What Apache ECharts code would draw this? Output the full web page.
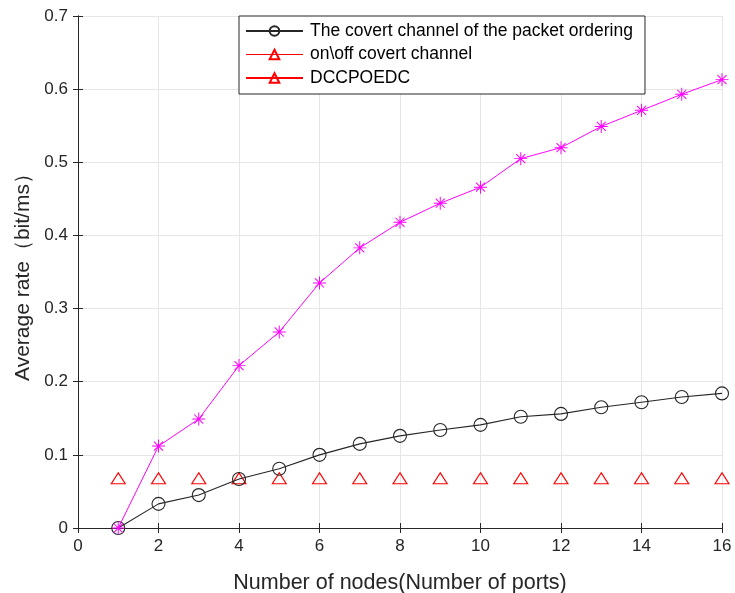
<!DOCTYPE html>
<html><head><meta charset="utf-8">
<script src="https://cdn.jsdelivr.net/npm/echarts@6/dist/echarts.min.js"></script>
<style>html,body{margin:0;padding:0;background:#fff}#c{width:735px;height:593px}</style>
</head><body><div id="c"></div>
<script>
const nodes = [1,2,3,4,5,6,7,8,9,10,11,12,13,14,15,16];
const orderingRate = [0,0.033,0.045,0.067,0.081,0.100,0.115,0.126,0.134,0.141,0.152,0.156,0.165,0.172,0.179,0.184];
const onoffRate = [0.068,0.068,0.068,0.068,0.068,0.068,0.068,0.068,0.068,0.068,0.068,0.068,0.068,0.068,0.068,0.068];
const dccRate = [0,0.112,0.149,0.222,0.268,0.335,0.383,0.418,0.444,0.466,0.505,0.520,0.549,0.571,0.593,0.613];
const seriesNames = ['The covert channel of the packet ordering','on\\off covert channel','DCCPOEDC'];
const xTicks = [0,2,4,6,8,10,12,14,16];
const yTicks = [0,0.1,0.2,0.3,0.4,0.5,0.6,0.7];

const asterisk = 'path://M9.25,0h1.5v20h-1.5z M0,9.25h20v1.5h-20z M2.5,3.6l1.1,-1.1l13.9,13.9l-1.1,1.1z M16.4,2.5l1.1,1.1l-13.9,13.9l-1.1,-1.1z';
const font = 'Arial, "Liberation Sans", Helvetica, sans-serif';
const txt = '#262626';
const clear = 'rgba(255,255,255,0)';
const pair = (xs, ys) => xs.map((x,i)=>[x, ys[i]]);

const chart = echarts.init(document.getElementById('c'));
const axisCommon = {
  axisLine:{show:true,lineStyle:{color:'#262626',width:1}},
  axisTick:{show:true,inside:true,length:5,lineStyle:{color:'#262626'}},
};
chart.setOption({
  animation:false,
  backgroundColor:'#fff',
  grid:{left:78,right:13,top:16,bottom:65,containLabel:false,outerBoundsMode:'none'},
  legend:{
    orient:'vertical', left:239, top:16,
    backgroundColor:'#fff', borderColor:'#262626', borderWidth:1, borderRadius:0,
    padding:[6,12,7,6], itemGap:5.5, itemWidth:57, itemHeight:12,
    textStyle:{fontFamily:font,fontSize:17.5,lineHeight:18,color:'#000',padding:[0,0,0,2]},
    data:[
      {name:seriesNames[0]},
      {name:seriesNames[1], lineStyle:{color:'#ff0000',width:1.2,opacity:1}},
      {name:seriesNames[2]}
    ]
  },
  xAxis:[
    Object.assign({type:'value',min:0,max:16,interval:2,position:'bottom',
      name:'Number of nodes(Number of ports)',nameLocation:'middle',nameGap:44,
      nameTextStyle:{fontFamily:font,fontSize:21.5,color:txt},
      axisLabel:{fontFamily:font,fontSize:17,color:txt,margin:10},
      splitLine:{show:true,lineStyle:{color:'#e6e6e6',width:1}}},axisCommon),
    Object.assign({type:'value',min:0,max:16,interval:2,position:'top',
      axisLabel:{show:false},splitLine:{show:false}},axisCommon)
  ],
  yAxis:[
    Object.assign({type:'value',min:0,max:0.7,interval:0.1,position:'left',
      name:'Average rate（bit/ms）',nameLocation:'middle',nameGap:43,
      nameTextStyle:{fontFamily:font,fontSize:21,color:txt},
      axisLabel:{fontFamily:font,fontSize:17,color:txt,margin:10,formatter:v=>String(+v.toFixed(1))},
      splitLine:{show:true,lineStyle:{color:'#e6e6e6',width:1}}},axisCommon),
    Object.assign({type:'value',min:0,max:0.7,interval:0.1,position:'right',
      axisLabel:{show:false},splitLine:{show:false}},axisCommon)
  ],
  series:[
    {name:seriesNames[0],type:'line',data:pair(nodes,orderingRate),
      symbol:'circle',symbolSize:13,showAllSymbol:true,
      lineStyle:{color:'#262626',width:1.1},
      itemStyle:{color:clear,borderColor:'#262626',borderWidth:1.1},z:3},
    {name:seriesNames[1],type:'line',data:pair(nodes,onoffRate),
      symbol:'triangle',symbolSize:[14,11],
      lineStyle:{color:'#ff0000',width:0,opacity:0},
      itemStyle:{color:clear,borderColor:'#ff0000',borderWidth:1.1},z:2},
    {name:seriesNames[2],type:'line',data:[],
      symbol:'triangle',symbolSize:[14,11],
      lineStyle:{color:'#ff0000',width:1.2},
      itemStyle:{color:clear,borderColor:'#ff0000',borderWidth:1.1}},
    {name:seriesNames[2]+' rate',type:'line',data:pair(nodes,dccRate),
      symbol:asterisk,symbolSize:13,
      lineStyle:{color:'#ff00ff',width:1},
      itemStyle:{color:'#ff00ff'},z:4}
  ]
});
</script></body></html>
